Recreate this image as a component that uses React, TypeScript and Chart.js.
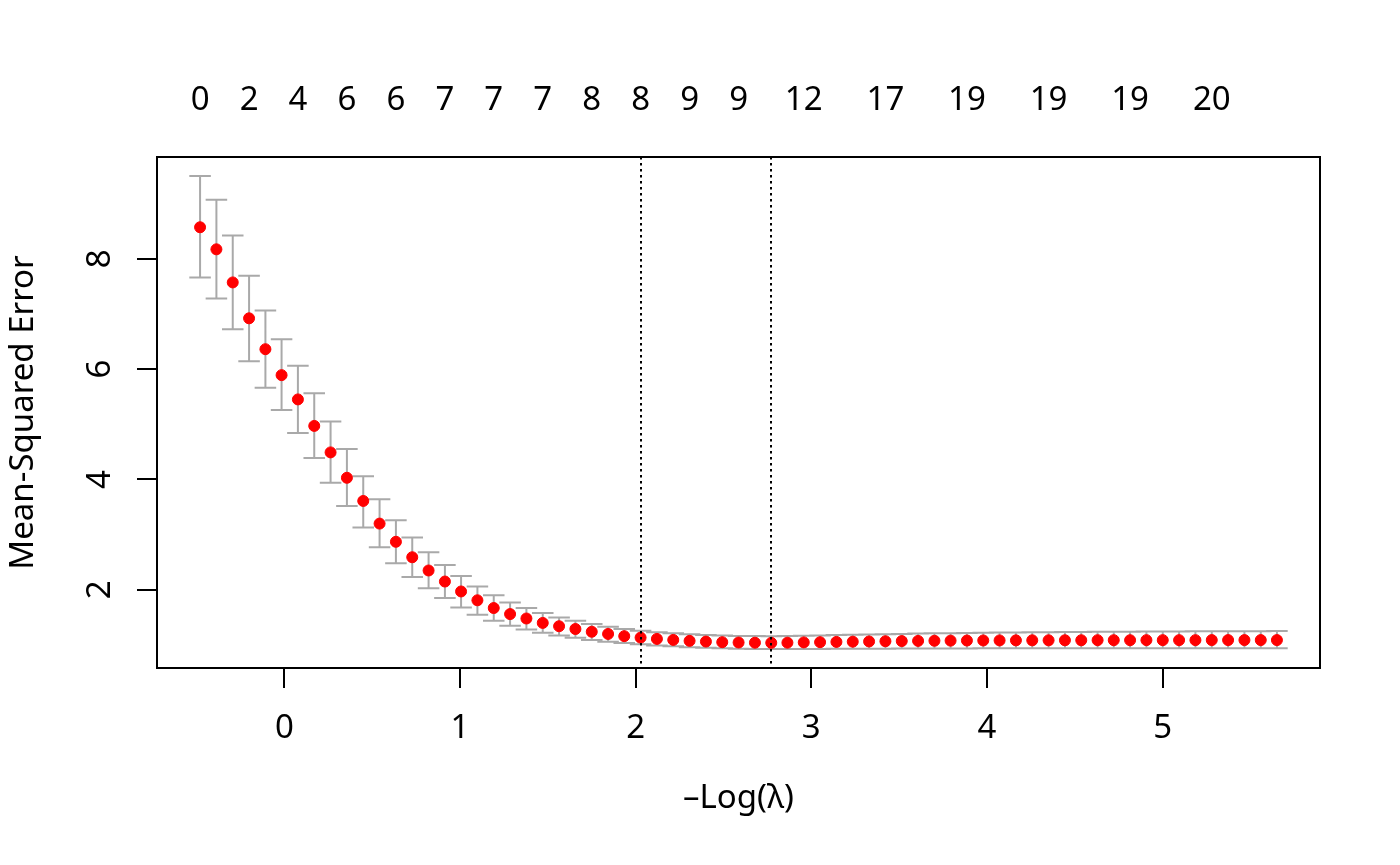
import { useEffect, useRef } from 'react';
import { Chart, ScatterController, PointElement, LinearScale } from 'chart.js';

Chart.register(ScatterController, PointElement, LinearScale);

// -log(lambda) for each lambda on the path
const negLogLambda = [
  -0.480, -0.387, -0.294, -0.201, -0.108, -0.016, 0.077, 0.170, 0.263, 0.356,
  0.449, 0.542, 0.635, 0.728, 0.821, 0.914, 1.006, 1.099, 1.192, 1.285,
  1.378, 1.471, 1.564, 1.657, 1.750, 1.843, 1.935, 2.028, 2.121, 2.214,
  2.307, 2.400, 2.493, 2.586, 2.679, 2.772, 2.864, 2.957, 3.050, 3.143,
  3.236, 3.329, 3.422, 3.515, 3.608, 3.701, 3.793, 3.886, 3.979, 4.072,
  4.165, 4.258, 4.351, 4.444, 4.537, 4.630, 4.722, 4.815, 4.908, 5.001,
  5.094, 5.187, 5.280, 5.373, 5.466, 5.559, 5.651,
];

// cross-validated mean squared error
const cvMean = [
  8.57, 8.17, 7.57, 6.92, 6.36, 5.89, 5.45, 4.97, 4.49, 4.03,
  3.61, 3.20, 2.87, 2.59, 2.35, 2.15, 1.97, 1.81, 1.67, 1.56,
  1.48, 1.40, 1.34, 1.29, 1.24, 1.20, 1.16, 1.134, 1.11, 1.092,
  1.075, 1.062, 1.051, 1.045, 1.041, 1.039, 1.042, 1.047, 1.051, 1.056,
  1.060, 1.064, 1.068, 1.071, 1.074, 1.077, 1.079, 1.081, 1.082, 1.083,
  1.084, 1.085, 1.085, 1.086, 1.086, 1.087, 1.087, 1.087, 1.088, 1.088,
  1.088, 1.088, 1.089, 1.089, 1.089, 1.089, 1.089,
];

// mean + 1 SE
const cvUpper = [
  9.50, 9.07, 8.42, 7.69, 7.06, 6.54, 6.06, 5.56, 5.05, 4.55,
  4.06, 3.64, 3.26, 2.95, 2.68, 2.45, 2.25, 2.06, 1.90, 1.77,
  1.67, 1.58, 1.50, 1.44, 1.38, 1.33, 1.29, 1.258, 1.233, 1.212,
  1.196, 1.182, 1.172, 1.165, 1.161, 1.159, 1.162, 1.168, 1.173, 1.179,
  1.185, 1.191, 1.196, 1.201, 1.206, 1.211, 1.215, 1.219, 1.222, 1.225,
  1.228, 1.231, 1.233, 1.235, 1.237, 1.239, 1.241, 1.242, 1.244, 1.245,
  1.246, 1.247, 1.248, 1.249, 1.250, 1.251, 1.252,
];

// mean - 1 SE
const cvLower = [
  7.66, 7.28, 6.72, 6.14, 5.66, 5.26, 4.84, 4.39, 3.94, 3.52,
  3.13, 2.77, 2.48, 2.23, 2.03, 1.85, 1.68, 1.55, 1.44, 1.35,
  1.28, 1.22, 1.17, 1.13, 1.09, 1.06, 1.035, 1.012, 0.992, 0.975,
  0.960, 0.948, 0.939, 0.933, 0.929, 0.926, 0.926, 0.927, 0.928, 0.930,
  0.931, 0.932, 0.934, 0.935, 0.936, 0.937, 0.938, 0.938, 0.939, 0.939,
  0.940, 0.940, 0.940, 0.941, 0.941, 0.941, 0.941, 0.941, 0.942, 0.942,
  0.942, 0.942, 0.942, 0.942, 0.942, 0.942, 0.942,
];

// number of non-zero coefficients shown along the top
const topLabelIdx = [0, 3, 6, 9, 12, 15, 18, 21, 24, 27, 30, 33, 37, 42, 47, 52, 57, 62];
const topLabels = ['0', '2', '4', '6', '6', '7', '7', '7', '8', '8', '9', '9', '12', '17', '19', '19', '19', '20'];

const xTicks = [0, 1, 2, 3, 4, 5];
const yTicks = [2, 4, 6, 8];

const idx1se = 27; // lambda.1se
const idxMin = 35; // lambda.min

const FONT = '33px "Noto Sans"';

// R style axis limits: data range widened by 4% on each side
const xLo = Math.min(...negLogLambda);
const xHi = Math.max(...negLogLambda);
const yLo = Math.min(...cvLower);
const yHi = Math.max(...cvUpper);
const xPad = (xHi - xLo) * 0.04;
const yPad = (yHi - yLo) * 0.04;

const cvPlotPlugin = {
  id: 'cvPlot',
  beforeDatasetsDraw(chart: any) {
    const { ctx, scales: { x, y } } = chart;
    const half = Math.abs(x.getPixelForValue(xLo + (xHi - xLo) * 0.01) - x.getPixelForValue(xLo));
    ctx.save();
    ctx.strokeStyle = '#A9A9A9';
    ctx.lineWidth = 2;
    ctx.beginPath();
    negLogLambda.forEach((v, i) => {
      const px = x.getPixelForValue(v);
      const top = y.getPixelForValue(cvUpper[i]);
      const bot = y.getPixelForValue(cvLower[i]);
      ctx.moveTo(px, top);
      ctx.lineTo(px, bot);
      ctx.moveTo(px - half, top);
      ctx.lineTo(px + half, top);
      ctx.moveTo(px - half, bot);
      ctx.lineTo(px + half, bot);
    });
    ctx.stroke();
    ctx.restore();
  },
  afterDatasetsDraw(chart: any) {
    const { ctx, chartArea: a, scales: { x, y } } = chart;
    ctx.save();
    ctx.strokeStyle = '#000';
    ctx.lineWidth = 2;

    // dotted lines at lambda.1se and lambda.min
    ctx.setLineDash([2.5, 3.5]);
    [idx1se, idxMin].forEach((i) => {
      const px = Math.round(x.getPixelForValue(negLogLambda[i]));
      ctx.beginPath();
      ctx.moveTo(px, a.top);
      ctx.lineTo(px, a.bottom);
      ctx.stroke();
    });
    ctx.setLineDash([]);

    // box
    ctx.strokeRect(a.left, a.top, a.right - a.left, a.bottom - a.top);

    // tick marks
    ctx.beginPath();
    xTicks.forEach((t) => {
      const px = Math.round(x.getPixelForValue(t));
      ctx.moveTo(px, a.bottom);
      ctx.lineTo(px, a.bottom + 20);
    });
    yTicks.forEach((t) => {
      const py = Math.round(y.getPixelForValue(t));
      ctx.moveTo(a.left - 20, py);
      ctx.lineTo(a.left, py);
    });
    ctx.stroke();

    ctx.fillStyle = '#000';
    ctx.font = FONT;
    ctx.textAlign = 'center';
    ctx.textBaseline = 'alphabetic';

    xTicks.forEach((t) => ctx.fillText(String(t), x.getPixelForValue(t), a.bottom + 70));
    topLabelIdx.forEach((idx, k) => ctx.fillText(topLabels[k], x.getPixelForValue(negLogLambda[idx]), a.top - 47));
    ctx.fillText('\u2013Log(\u03BB)', (a.left + a.right) / 2, a.bottom + 140);

    // rotated labels on the left side
    yTicks.forEach((t) => {
      ctx.save();
      ctx.translate(a.left - 47, y.getPixelForValue(t));
      ctx.rotate(-Math.PI / 2);
      ctx.fillText(String(t), 0, 0);
      ctx.restore();
    });
    ctx.save();
    ctx.translate(a.left - 124, (a.top + a.bottom) / 2);
    ctx.rotate(-Math.PI / 2);
    ctx.fillText('Mean-Squared Error', 0, 0);
    ctx.restore();

    ctx.restore();
  },
};

export default function App() {
  const canvasRef = useRef<HTMLCanvasElement>(null);
  const chartRef = useRef<Chart | null>(null);

  useEffect(() => {
    if (!canvasRef.current) return;
    if (chartRef.current) chartRef.current.destroy();

    chartRef.current = new Chart(canvasRef.current, {
      type: 'scatter',
      data: {
        datasets: [
          {
            data: negLogLambda.map((v, i) => ({ x: v, y: cvMean[i] })),
            backgroundColor: '#FF0000',
            borderColor: '#FF0000',
            borderWidth: 1,
            pointRadius: 5.5,
            pointHoverRadius: 5.5,
          },
        ],
      },
      options: {
        responsive: false,
        animation: false,
        events: [],
        layout: { padding: { left: 157, top: 157, right: 80, bottom: 197 } },
        scales: {
          x: { type: 'linear', display: false, min: xLo - xPad, max: xHi + xPad },
          y: { type: 'linear', display: false, min: yLo - yPad, max: yHi + yPad },
        },
        plugins: {
          legend: { display: false },
          tooltip: { enabled: false },
        },
      },
      plugins: [cvPlotPlugin],
    });

    return () => {
      if (chartRef.current) {
        chartRef.current.destroy();
        chartRef.current = null;
      }
    };
  }, []);

  return (
    <div style={{ position: 'absolute', left: 0, top: 0, width: '1400px', height: '865px', background: '#fff' }}>
      <canvas
        ref={canvasRef}
        width={1400}
        height={865}
        style={{ display: 'block', width: '1400px', height: '865px' }}
      />
    </div>
  );
}
